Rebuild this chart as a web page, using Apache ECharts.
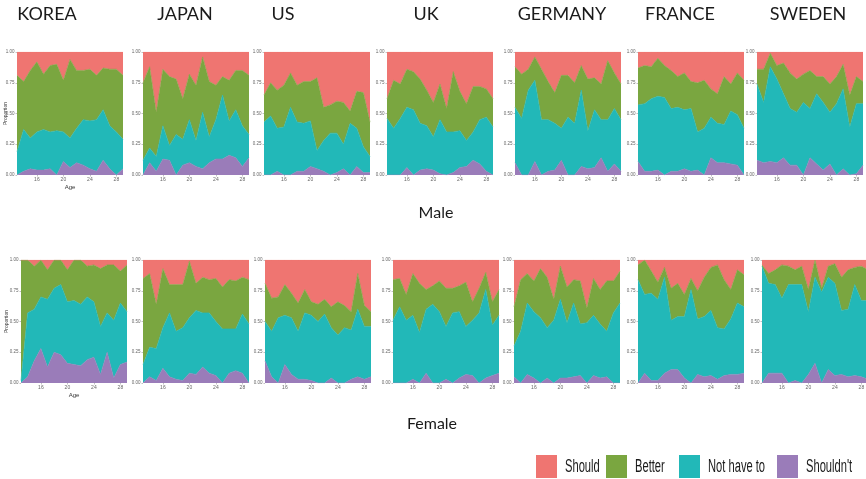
<!DOCTYPE html>
<html>
<head>
<meta charset="utf-8">
<script src="https://cdn.jsdelivr.net/npm/echarts@6/dist/echarts.min.js"></script>
<style>
  html, body { margin: 0; padding: 0; background: #ffffff; }
  #chart { width: 866px; height: 479px; }
</style>
</head>
<body>
<div id="chart"></div>
<script>
// Ages on the horizontal axis and the ticks that carry labels
const ages = [13, 14, 15, 16, 17, 18, 19, 20, 21, 22, 23, 24, 25, 26, 27, 28, 29];
const xTicks = [16, 20, 24, 28];
const yTicks = [0, 0.25, 0.5, 0.75, 1];

const countries = ['KOREA', 'JAPAN', 'US', 'UK', 'GERMANY', 'FRANCE', 'SWEDEN'];
const rowLabels = ['Male', 'Female'];
const categories = ['Should', 'Better', 'Not have to', "Shouldn't"];
const categoryColors = ['#EF7571', '#7AA640', '#22B8B8', '#9A7CB9'];

// Share of answers (%) by age; each panel holds the four answer categories
const koreaMale = {
  shouldnt: [0, 3, 5, 4, 4, 5, 0, 11, 6, 10, 8, 5, 3, 12, 5, 0, 5],
  notHave:  [19, 34, 25, 31, 33, 30, 36, 24, 24, 28, 37, 39, 42, 41, 35, 35, 24],
  better:   [62, 39, 55, 57, 45, 54, 54, 42, 64, 47, 40, 42, 36, 34, 46, 51, 52],
  should:   [19, 24, 15, 8, 18, 11, 10, 23, 6, 15, 15, 14, 19, 13, 14, 14, 19]
};
const japanMale = {
  shouldnt: [0, 10, 3, 13, 12, 0, 8, 10, 7, 5, 10, 13, 13, 16, 14, 7, 14],
  notHave:  [12, 12, 12, 27, 12, 33, 21, 35, 21, 46, 21, 32, 52, 28, 39, 33, 19],
  better:   [63, 66, 36, 46, 56, 45, 33, 37, 45, 45, 45, 28, 15, 33, 32, 45, 48],
  should:   [25, 12, 49, 14, 20, 22, 38, 18, 27, 4, 24, 27, 20, 23, 15, 15, 19]
};
const usMale = {
  shouldnt: [0, 0, 3, 0, 0, 3, 3, 7, 5, 3, 0, 2, 5, 0, 7, 2, 2],
  notHave:  [43, 48, 35, 39, 55, 40, 39, 37, 15, 25, 34, 32, 20, 42, 31, 21, 13],
  better:   [22, 27, 31, 34, 28, 30, 34, 32, 59, 27, 23, 26, 34, 10, 30, 44, 28],
  should:   [35, 25, 31, 27, 17, 27, 24, 24, 21, 45, 43, 40, 41, 48, 32, 33, 57]
};
const ukMale = {
  shouldnt: [0, 0, 0, 6, 0, 4, 5, 4, 1, 0, 2, 6, 7, 12, 9, 3, 0],
  notHave:  [46, 38, 46, 49, 53, 38, 35, 27, 44, 35, 33, 30, 21, 23, 36, 44, 39],
  better:   [16, 39, 28, 31, 31, 36, 29, 28, 29, 19, 49, 32, 30, 37, 27, 23, 23],
  should:   [38, 23, 26, 14, 16, 22, 31, 41, 26, 46, 16, 32, 42, 28, 28, 30, 38]
};
const germanyMale = {
  shouldnt: [10, 0, 0, 11, 0, 3, 4, 12, 0, 0, 7, 5, 6, 14, 3, 9, 3],
  notHave:  [45, 46, 69, 66, 45, 42, 38, 26, 47, 42, 62, 31, 47, 31, 42, 45, 42],
  better:   [33, 36, 17, 19, 41, 31, 25, 43, 34, 33, 20, 42, 26, 29, 48, 29, 29],
  should:   [12, 18, 14, 4, 14, 24, 33, 19, 19, 25, 11, 22, 21, 26, 7, 17, 26]
};
const franceMale = {
  shouldnt: [11, 3, 3, 4, 0, 3, 3, 5, 3, 4, 0, 14, 10, 10, 9, 8, 0],
  notHave:  [46, 55, 59, 60, 63, 51, 52, 48, 51, 31, 38, 33, 32, 31, 43, 41, 38],
  better:   [30, 31, 26, 31, 26, 31, 25, 30, 22, 40, 39, 23, 24, 39, 22, 34, 39],
  should:   [13, 11, 12, 5, 11, 15, 20, 17, 24, 25, 23, 30, 34, 20, 26, 17, 23]
};
const swedenMale = {
  shouldnt: [12, 10, 11, 10, 14, 8, 8, 0, 14, 9, 4, 9, 0, 5, 0, 1, 8],
  notHave:  [62, 49, 77, 68, 52, 46, 43, 59, 40, 57, 55, 42, 58, 65, 39, 57, 50],
  better:   [12, 27, 11, 11, 25, 29, 27, 23, 31, 14, 21, 23, 22, 20, 26, 22, 18],
  should:   [14, 14, 1, 11, 9, 17, 22, 18, 15, 20, 20, 26, 20, 10, 35, 20, 24]
};
const koreaFemale = {
  shouldnt: [0, 5, 18, 28, 13, 25, 23, 16, 15, 14, 19, 21, 7, 25, 4, 15, 17],
  notHave:  [2, 52, 42, 42, 55, 52, 57, 50, 52, 50, 51, 45, 39, 32, 47, 50, 41],
  better:   [98, 43, 35, 30, 24, 23, 20, 26, 33, 36, 25, 30, 47, 39, 45, 26, 38],
  should:   [0, 0, 5, 0, 8, 0, 0, 8, 0, 0, 5, 4, 7, 4, 4, 9, 4]
};
const japanFemale = {
  shouldnt: [0, 5, 2, 12, 5, 3, 2, 8, 7, 13, 8, 6, 0, 8, 10, 8, 0],
  notHave:  [15, 24, 26, 33, 52, 39, 43, 45, 52, 44, 49, 44, 44, 36, 34, 48, 48],
  better:   [70, 60, 36, 48, 23, 38, 35, 46, 22, 29, 27, 35, 34, 40, 39, 30, 36],
  should:   [15, 11, 36, 7, 20, 20, 20, 1, 19, 14, 16, 15, 22, 16, 17, 14, 16]
};
const usFemale = {
  shouldnt: [18, 5, 0, 15, 7, 3, 3, 2, 0, 0, 4, 0, 0, 3, 5, 3, 5],
  notHave:  [32, 37, 53, 40, 46, 39, 54, 53, 50, 56, 41, 39, 45, 40, 55, 43, 41],
  better:   [31, 27, 17, 25, 20, 23, 19, 11, 14, 12, 17, 27, 18, 15, 29, 17, 12],
  should:   [19, 31, 30, 20, 27, 35, 24, 34, 36, 32, 38, 34, 37, 42, 11, 37, 42]
};
const ukFemale = {
  shouldnt: [0, 0, 0, 3, 0, 8, 0, 0, 3, 0, 4, 7, 6, 0, 4, 6, 8],
  notHave:  [51, 62, 51, 52, 41, 52, 64, 58, 43, 57, 54, 39, 45, 57, 72, 41, 47],
  better:   [33, 23, 21, 34, 40, 16, 15, 25, 31, 20, 21, 36, 15, 20, 14, 19, 21],
  should:   [16, 15, 28, 11, 19, 24, 21, 17, 23, 23, 21, 18, 34, 23, 10, 34, 24]
};
const germanyFemale = {
  shouldnt: [5, 0, 7, 4, 0, 4, 0, 4, 4, 5, 6, 0, 6, 4, 5, 0, 0],
  notHave:  [25, 42, 58, 54, 53, 41, 51, 64, 45, 60, 42, 49, 49, 44, 37, 57, 65],
  better:   [32, 42, 24, 25, 40, 41, 17, 27, 29, 19, 35, 12, 30, 28, 41, 26, 26],
  should:   [38, 16, 11, 17, 7, 14, 32, 5, 22, 16, 17, 39, 15, 24, 17, 17, 9]
};
const franceFemale = {
  shouldnt: [0, 8, 2, 2, 8, 11, 11, 4, 0, 7, 5, 6, 3, 6, 7, 7, 8],
  notHave:  [84, 64, 71, 66, 78, 40, 43, 50, 76, 45, 49, 53, 42, 38, 45, 58, 54],
  better:   [12, 28, 18, 14, 8, 26, 27, 18, 9, 23, 32, 35, 51, 40, 24, 27, 26],
  should:   [4, 0, 9, 18, 6, 23, 19, 28, 15, 25, 14, 6, 4, 16, 24, 8, 12]
};
const swedenFemale = {
  shouldnt: [0, 8, 8, 8, 0, 2, 0, 7, 16, 0, 11, 6, 7, 5, 6, 5, 3],
  notHave:  [95, 73, 72, 61, 80, 78, 80, 51, 70, 74, 75, 75, 52, 55, 74, 62, 64],
  better:   [1, 8, 12, 27, 15, 12, 15, 18, 14, 3, 9, 16, 27, 32, 14, 28, 25],
  should:   [4, 11, 8, 4, 5, 8, 5, 24, 0, 23, 5, 3, 14, 8, 6, 5, 8]
};

const maleRow = [koreaMale, japanMale, usMale, ukMale, germanyMale, franceMale, swedenMale];
const femaleRow = [koreaFemale, japanFemale, usFemale, ukFemale, germanyFemale, franceFemale, swedenFemale];

// Panel placement (pixels)
const maleLefts = [17, 143, 264, 387, 515, 638, 757];
const femaleLefts = [21, 143, 265, 393, 514, 638, 762];
const rowTops = [52, 260];
const proportionGaps = [9, 12];
const panelW = 106, panelH = 123;
const titleCenters = [47, 185, 283, 426, 562, 680, 808];

const FONT = '"Liberation Sans", Arial, sans-serif';
const TITLE_FONT = 'Lato, "Liberation Sans", sans-serif';

const grids = [], xAxes = [], yAxes = [], series = [];

function addPanel(panel, left, top, first, nameGap) {
  const i = grids.length;
  grids.push({ left: left, top: top, width: panelW, height: panelH, outerBoundsMode: 'none', containLabel: false });
  const tickShown = (idx, val) => xTicks.indexOf(Number(val)) >= 0;
  xAxes.push({
    type: 'category', gridIndex: i, data: ages, boundaryGap: false,
    axisLine: { show: false },
    axisTick: { show: true, interval: tickShown, length: 1.5, lineStyle: { color: '#999', width: 0.6 } },
    axisLabel: { interval: tickShown, fontSize: 5, color: '#666', margin: 2.5, fontFamily: FONT },
    splitLine: { show: false },
    name: first ? 'Age' : '', nameLocation: 'middle', nameGap: 9, nameMoveOverlap: false,
    nameTextStyle: { fontSize: 6, color: '#333', fontFamily: FONT }
  });
  yAxes.push({
    type: 'value', gridIndex: i, min: 0, max: 1, interval: 0.25,
    axisLine: { show: false },
    axisTick: { show: true, length: 1.5, lineStyle: { color: '#999', width: 0.6 } },
    axisLabel: { fontSize: 4.5, color: '#666', margin: 2.5, fontFamily: FONT,
                 formatter: v => v.toFixed(2) },
    splitLine: { show: false },
    name: first ? 'Proportion' : '', nameLocation: 'middle', nameGap: nameGap, nameMoveOverlap: false,
    nameTextStyle: { fontSize: 5, color: '#333', fontFamily: FONT }
  });
  // stacked from the bottom: Shouldn't, Not have to, Better, Should
  const layers = [
    [categories[3], panel.shouldnt, categoryColors[3]],
    [categories[2], panel.notHave, categoryColors[2]],
    [categories[1], panel.better, categoryColors[1]],
    [categories[0], panel.should, categoryColors[0]]
  ];
  layers.forEach(([name, values, color]) => {
    series.push({
      name: name, type: 'line', xAxisIndex: i, yAxisIndex: i, stack: 'panel' + i,
      data: values.map(v => v / 100),
      symbol: 'none', smooth: false, silent: true,
      lineStyle: { width: 0.6, color: color },
      itemStyle: { color: color },
      areaStyle: { color: color, opacity: 1 }
    });
  });
}

maleRow.forEach((p, c) => addPanel(p, maleLefts[c], rowTops[0], c === 0, proportionGaps[0]));
femaleRow.forEach((p, c) => addPanel(p, femaleLefts[c], rowTops[1], c === 0, proportionGaps[1]));

const graphics = [];
countries.forEach((name, c) => {
  graphics.push({
    type: 'text', x: titleCenters[c], y: 14, silent: true,
    style: { text: name, fill: '#1a1a1a', font: '18px ' + TITLE_FONT, textAlign: 'center', textVerticalAlign: 'middle' }
  });
});
graphics.push({
  type: 'text', x: 436, y: 213, silent: true,
  style: { text: rowLabels[0], fill: '#1a1a1a', font: '16px ' + TITLE_FONT, textAlign: 'center', textVerticalAlign: 'middle' }
});
graphics.push({
  type: 'text', x: 432, y: 424, silent: true,
  style: { text: rowLabels[1], fill: '#1a1a1a', font: '16px ' + TITLE_FONT, textAlign: 'center', textVerticalAlign: 'middle' }
});

// legend keys along the bottom
const legendBoxX = [536, 606, 679, 777];
categories.forEach((name, k) => {
  graphics.push({
    type: 'rect', silent: true,
    shape: { x: legendBoxX[k], y: 455, width: 21, height: 23 },
    style: { fill: categoryColors[k] }
  });
  graphics.push({
    type: 'text', x: legendBoxX[k] + 29, y: 467, silent: true, scaleX: 0.62,
    style: { text: name, fill: '#1a1a1a', font: '18px ' + FONT, textAlign: 'left', textVerticalAlign: 'middle' }
  });
});

const chart = echarts.init(document.getElementById('chart'), null, { renderer: 'canvas' });
chart.setOption({
  animation: false,
  backgroundColor: '#ffffff',
  grid: grids,
  xAxis: xAxes,
  yAxis: yAxes,
  series: series,
  graphic: graphics
});
</script>
</body>
</html>
